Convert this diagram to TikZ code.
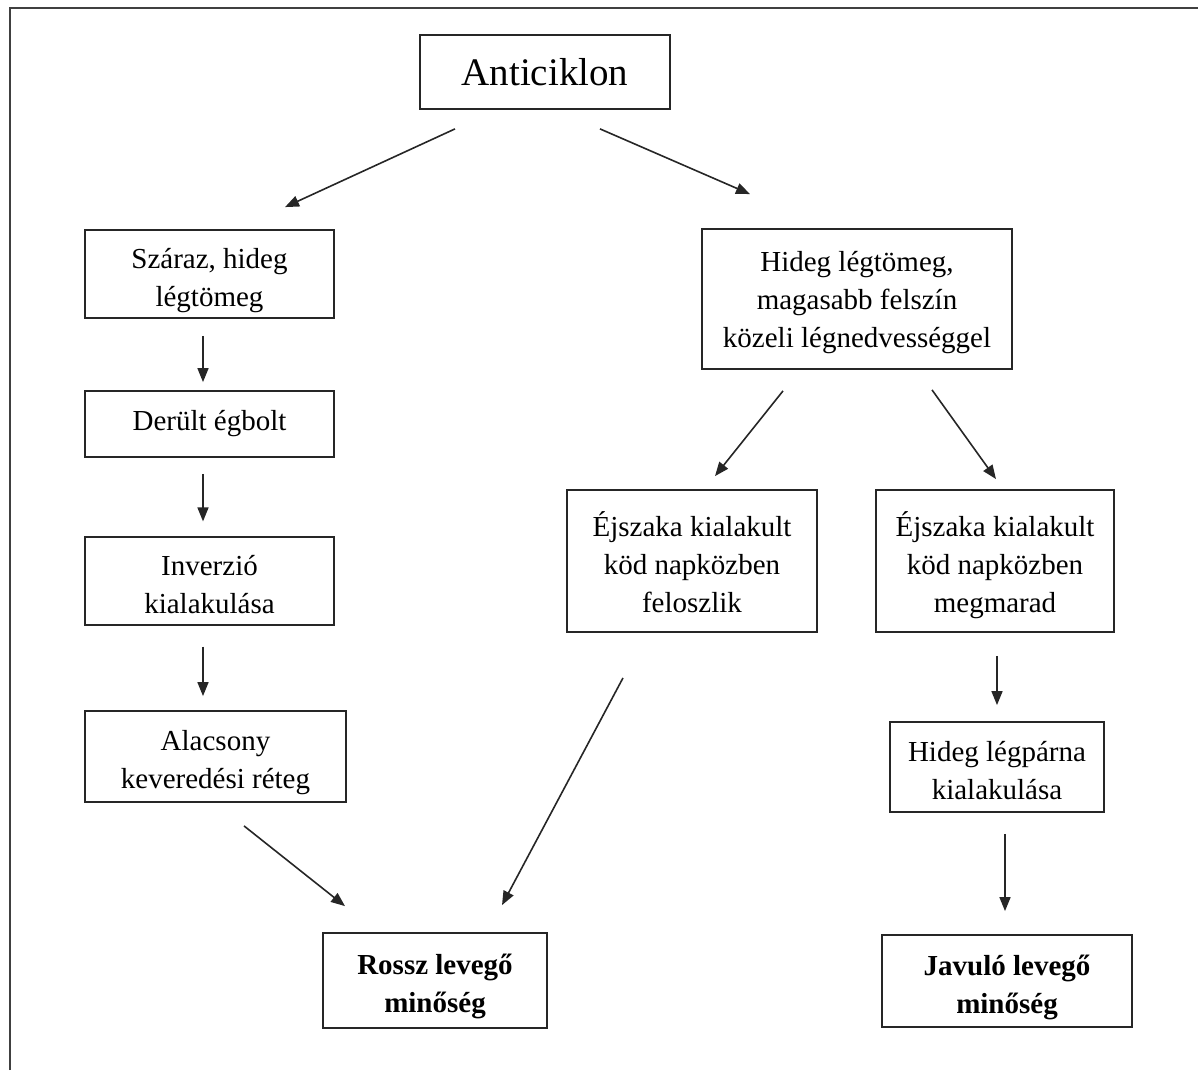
\documentclass[tikz,border=0pt]{standalone}
\usepackage{fontspec}
\setmainfont{Liberation Serif}
\usetikzlibrary{arrows.meta,calc}
\newcommand{\ts}{\rule{0pt}{38pt}}
\newcommand{\tsh}{\rule{0pt}{32pt}}
\tikzset{
  box/.style={draw=black!85, line width=1.8pt, inner sep=0pt, align=center,
    font=\fontsize{29}{38}\selectfont},
  boldbox/.style={box, font=\fontsize{29}{38}\selectfont\bfseries},
  titlebox/.style={box, font=\fontsize{39}{46}\selectfont},
  conn/.style={line width=1.6pt, black!85, -{Triangle[length=14pt,width=11pt]}},
  frame/.style={line width=2.2pt, black!75}
}
\begin{document}
\begin{tikzpicture}[x=1pt,y=-1pt]
\useasboundingbox (0,0) rectangle (1198,1070);
\coordinate (fbl) at (10,1070);
\coordinate (ftl) at (10,8);
\coordinate (ftr) at (1198,8);
\draw[frame] (fbl) -- (ftl) -- (ftr);

\node[titlebox, minimum width=250pt, minimum height=74pt] (anti) at (545,72) {Anticiklon};

\node[box, minimum width=249pt, minimum height=88pt] (szaraz) at (209.5,274) {\ts Száraz, hideg\\légtömeg\strut};
\node[box, minimum width=249pt, minimum height=66pt] (derult) at (209.5,424) {Derült égbolt};
\node[box, minimum width=249pt, minimum height=86pt] (inverzio) at (209.5,581) {\ts Inverzió\\kialakulása\strut};
\node[box, minimum width=261pt, minimum height=91pt] (alacsony) at (215.5,756.5) {\ts Alacsony\\keveredési réteg\strut};
\node[boldbox, minimum width=224pt, minimum height=95pt] (rossz) at (435,980.5) {\ts Rossz levegő\\minőség\strut};

\node[box, minimum width=310pt, minimum height=140pt] (hideg) at (857,299) {\tsh Hideg légtömeg,\\magasabb felszín\\közeli légnedvességgel\strut};
\node[box, minimum width=250pt, minimum height=142pt] (ejsz1) at (692,561) {\ts Éjszaka kialakult\\köd napközben\\feloszlik\strut};
\node[box, minimum width=238pt, minimum height=142pt] (ejsz2) at (995,561) {\ts Éjszaka kialakult\\köd napközben\\megmarad\strut};
\node[box, minimum width=214pt, minimum height=90pt] (legparna) at (997,767) {\ts Hideg légpárna\\kialakulása\strut};
\node[boldbox, minimum width=250pt, minimum height=92pt] (javulo) at (1007,981) {\ts Javuló levegő\\minőség\strut};

\draw[conn] ([xshift=-90pt,yshift=-19pt]anti.south) -- ([xshift=75.5pt,yshift=22pt]szaraz.north);
\draw[conn] ([xshift=55pt,yshift=-19pt]anti.south) -- ([xshift=-107pt,yshift=34pt]hideg.north);
\draw[conn] ([xshift=-6.5pt,yshift=-17pt]szaraz.south) -- ([xshift=-6.5pt,yshift=8pt]derult.north);
\draw[conn] ([xshift=-6.5pt,yshift=-16pt]derult.south) -- ([xshift=-6.5pt,yshift=15pt]inverzio.north);
\draw[conn] ([xshift=-6.5pt,yshift=-21pt]inverzio.south) -- ([xshift=-12.5pt,yshift=14pt]alacsony.north);
\draw[conn] ([xshift=28.5pt,yshift=-23pt]alacsony.south) -- ([xshift=-90pt,yshift=26pt]rossz.north);
\draw[conn] ([xshift=-69pt,yshift=-45pt]ejsz1.south) -- ([xshift=67pt,yshift=27pt]rossz.north);
\draw[conn] ([xshift=-74pt,yshift=-21pt]hideg.south) -- ([xshift=23pt,yshift=13pt]ejsz1.north);
\draw[conn] ([xshift=75pt,yshift=-20pt]hideg.south) -- ([xshift=1pt,yshift=10pt]ejsz2.north);
\draw[conn] ([xshift=2pt,yshift=-23pt]ejsz2.south) -- ([xshift=0pt,yshift=16pt]legparna.north);
\draw[conn] ([xshift=8pt,yshift=-21pt]legparna.south) -- ([xshift=-2pt,yshift=23pt]javulo.north);
\end{tikzpicture}
\end{document}
